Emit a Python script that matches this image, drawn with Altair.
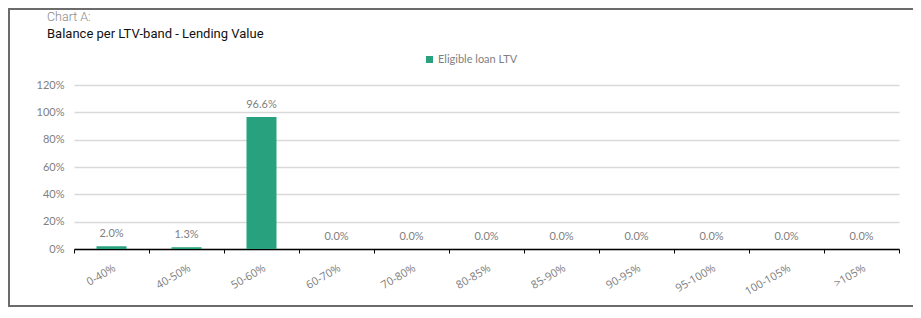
import altair as alt
import pandas as pd

categories = ["0-40%", "40-50%", "50-60%", "60-70%", "70-80%", "80-85%",
              "85-90%", "90-95%", "95-100%", "100-105%", ">105%"]
values = [0.020, 0.013, 0.966, 0.0, 0.0, 0.0, 0.0, 0.0, 0.0, 0.0, 0.0]
series_name = "Eligible loan LTV"
chart_label = "Chart A:"
chart_title = "Balance per LTV-band - Lending Value"
y_ticks = [0, 0.2, 0.4, 0.6, 0.8, 1.0, 1.2]

BAR = "#28a17f"
GREY = "#808080"
LFONT = "Lato"

df = pd.DataFrame({"band": categories, "value": values, "series": series_name})

x_scale = alt.Scale(paddingInner=0, paddingOuter=0)
y_scale = alt.Scale(domain=[0, 1.2])

x_axis = alt.Axis(title=None, labelAngle=-30, labelColor=GREY,
                  labelFont="Open Sans", labelFontSize=11,
                  labelAlign="right", labelBaseline="top",
                  labelPadding=9,
                  domainColor="#000000", domainWidth=1.5,
                  tickColor="#000000", tickSize=4, tickWidth=1,
                  tickBand="extent", grid=False)
y_axis = alt.Axis(title=None, values=y_ticks, tickCount=7,
                  format=".0%",
                  labelColor=GREY, labelFont=LFONT, labelFontSize=11,
                  labelFontWeight=400, labelOverlap=False,
                  labelPadding=10, domain=False, ticks=False,
                  gridColor="#d9d9d9", gridWidth=1.5)

x_enc = alt.X("band:N", sort=categories, scale=x_scale, axis=x_axis)
y_enc = alt.Y("value:Q", scale=y_scale, axis=y_axis)

bars = alt.Chart(df).mark_bar(width=alt.RelativeBandSize(0.4)).encode(
    x=x_enc, y=y_enc,
    color=alt.Color("series:N", scale=alt.Scale(range=[BAR]),
                    legend=alt.Legend(title=None, orient="none", legendX=350,
                                      legendY=-31, symbolType="square",
                                      symbolSize=49, symbolStrokeWidth=0,
                                      labelColor=GREY, labelFont=LFONT,
                                      labelFontSize=11, labelOffset=3)),
)

labels = alt.Chart(df).mark_text(dy=-7, baseline="bottom", color=GREY,
                                 font=LFONT, fontSize=11, fontWeight=400).encode(
    x=x_enc, y=y_enc,
    text=alt.Text("value:Q", format=".1%"))

t1 = alt.Chart(pd.DataFrame({"t": [chart_label]})).mark_text(
    align="left", baseline="middle", color="#8a8a8a", font="Roboto",
    fontSize=12.5, fontWeight=300).encode(
    x=alt.value(-27), y=alt.value(-68), text="t:N")
t2 = alt.Chart(pd.DataFrame({"t": [chart_title]})).mark_text(
    align="left", baseline="middle", color="#111111", font="Roboto",
    fontSize=13, fontWeight=400).encode(
    x=alt.value(-27), y=alt.value(-51), text="t:N")

frame = alt.Chart(pd.DataFrame({"f": [0]})).mark_rect(
    fillOpacity=0, stroke="#6b6b6b", strokeWidth=2).encode(
    x=alt.value(-65), x2=alt.value(850), y=alt.value(-76), y2=alt.value(221))

chart = alt.layer(frame, bars, labels, t1, t2).properties(
    width=825, height=164,
    background="white",
    autosize=alt.AutoSizeParams(type="none"),
    padding={"left": 66, "top": 77, "right": 14, "bottom": 58},
).configure_view(stroke=None)

chart.save("out.html", embed_options={"renderer": "svg", "actions": False})
